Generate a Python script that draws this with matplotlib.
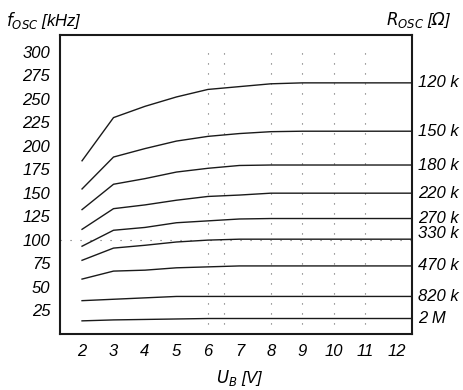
import numpy as np
import matplotlib
matplotlib.use('Agg')
import matplotlib.pyplot as plt
import matplotlib.transforms as mtransforms

plt.rcParams['font.family'] = ['Liberation Sans Narrow', 'Liberation Sans', 'DejaVu Sans']
plt.rcParams['font.style'] = 'italic'
plt.rcParams['mathtext.fontset'] = 'custom'
plt.rcParams['mathtext.rm'] = 'Liberation Sans Narrow:italic'
plt.rcParams['mathtext.it'] = 'Liberation Sans Narrow:italic'

# supply voltage U_B [V]
u_b = [2, 3, 4, 5, 6, 7, 8, 9, 10, 11, 12]

# oscillator frequency [kHz] per resistor
r_labels = ['120 k', '150 k', '180 k', '220 k', '270 k', '330 k', '470 k', '820 k', '2 M']
f_120k = [184, 230, 242, 252, 260, 263, 266, 267, 267, 267, 267]
f_150k = [154, 188, 197, 205, 210, 213, 215, 215.5, 215.5, 215.5, 215.5]
f_180k = [132, 159, 165, 172, 176, 179, 179.5, 179.5, 179.5, 179.5, 179.5]
f_220k = [111, 133, 137, 142, 146, 147.5, 149.5, 149.5, 149.5, 149.5, 149.5]
f_270k = [93, 110, 113, 118, 120, 122, 122.5, 122.5, 122.5, 122.5, 122.5]
f_330k = [78, 91, 94, 97.5, 99.5, 100.5, 100.5, 100.5, 100.5, 100.5, 100.5]
f_470k = [58, 66.5, 67.5, 70, 71, 72, 72, 72, 72, 72, 72]
f_820k = [35, 36.5, 38, 39.5, 39.5, 39.5, 39.5, 39.5, 39.5, 39.5, 39.5]
f_2M = [13.5, 14.5, 15, 15.5, 16, 16, 16, 16, 16, 16, 16]

curves = [f_120k, f_150k, f_180k, f_220k, f_270k, f_330k, f_470k, f_820k, f_2M]

y_ticks = [25, 50, 75, 100, 125, 150, 175, 200, 225, 250, 275, 300]
grid_x = [6, 6.5, 8, 9, 10, 11]

xmin, xmax = 1.3, 12.48

fig = plt.figure(figsize=(4.63, 3.90), dpi=100)
ax = fig.add_axes([0.1296, 0.1436, 0.760, 0.7667])

# dotted guide lines
for gx in grid_x:
    ax.plot([gx, gx], [0, 300], color='#666666', lw=0.8, ls=(0, (1, 8)))
ax.plot([xmin, xmax], [100, 100], color='#666666', lw=0.8, ls=(0, (1, 8)))

# curves run flat out to the right frame
for vals in curves:
    ax.plot(u_b + [xmax], vals + [vals[-1]], color='#1a1a1a', lw=1.0)

# resistor labels on the right
trans = mtransforms.blended_transform_factory(ax.transAxes, ax.transData)
nudge = {'330 k': 6}
for lab, vals in zip(r_labels, curves):
    ax.text(1.017, vals[-1] + nudge.get(lab, 0), lab, transform=trans,
            va='center', ha='left', fontsize=12)

ax.set_xlim(xmin, xmax)
ax.set_ylim(-0.5, 318)
ax.set_xticks(u_b)
ax.set_yticks(y_ticks)
ax.tick_params(length=0, labelsize=12, pad=7)
for sp in ax.spines.values():
    sp.set_linewidth(1.5)
    sp.set_color('#1a1a1a')

fig.text(0.013, 0.948, r'$f_{OSC}$ [kHz]', fontsize=12, va='center', ha='left')
fig.text(0.975, 0.948, r'$R_{OSC}$ [$\Omega$]', fontsize=12, va='center', ha='right')
fig.text(0.518, 0.03, r'$U_{B}$ [V]', fontsize=12, va='center', ha='center')

fig.savefig('out.png', dpi=100)
